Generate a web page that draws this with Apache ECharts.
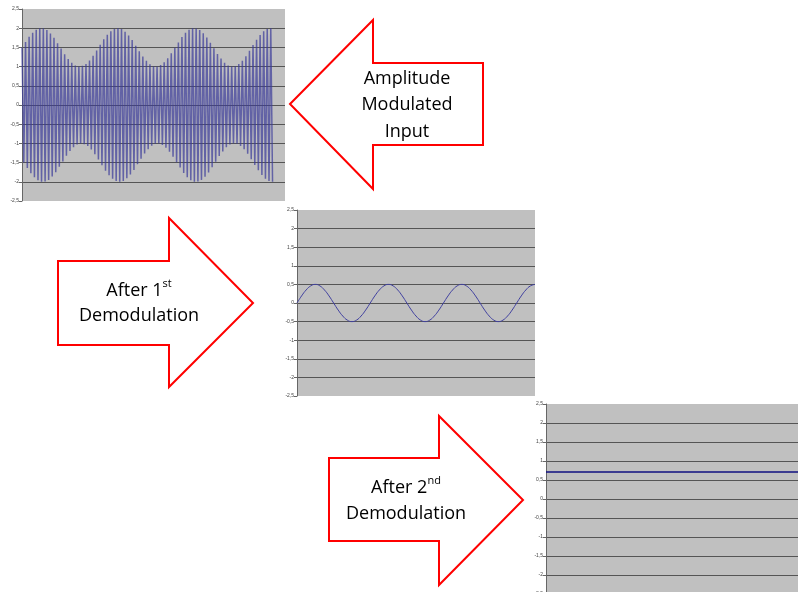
<!DOCTYPE html>
<html>
<head>
<meta charset="utf-8">
<script src="https://cdn.jsdelivr.net/npm/echarts@6/dist/echarts.min.js"></script>
<style>
  html, body { margin: 0; padding: 0; background: #fff; }
  #main { width: 804px; height: 592px; }
</style>
</head>
<body>
<div id="main"></div>
<script>
// peak of each carrier cycle in the amplitude modulated input
var amPeaks = [1.5, 1.64, 1.78, 1.88, 1.96, 2.0, 1.99, 1.95, 1.86, 1.75, 1.61, 1.47, 1.32, 1.2,
    1.1, 1.03, 1.0, 1.02, 1.07, 1.16, 1.28, 1.42, 1.57, 1.71, 1.83, 1.92, 1.98, 2.0, 1.98,
    1.91, 1.81, 1.69, 1.54, 1.4, 1.26, 1.15, 1.06, 1.01, 1.0, 1.04, 1.11, 1.22, 1.35, 1.49,
    1.63, 1.77, 1.88, 1.96, 2.0, 1.99, 1.95, 1.87, 1.76, 1.62, 1.48, 1.33, 1.21, 1.1, 1.03,
    1.0, 1.01, 1.07, 1.15, 1.27, 1.41, 1.56, 1.7, 1.82, 1.92, 1.98, 2.0];

// after 1st demodulation
var demod1 = [0, 0.19, 0.35, 0.46, 0.5, 0.46, 0.35, 0.19, 0, -0.19, -0.35, -0.46, -0.5, -0.46, -0.35, -0.19,
    0, 0.19, 0.35, 0.46, 0.5, 0.46, 0.35, 0.19, 0, -0.19, -0.35, -0.46, -0.5, -0.46, -0.35, -0.19,
    0, 0.19, 0.35, 0.46, 0.5, 0.46, 0.35, 0.19, 0, -0.19, -0.35, -0.46, -0.5, -0.46, -0.35, -0.19,
    0, 0.19, 0.35, 0.46, 0.5];

// after 2nd demodulation
var demod2 = [0.71, 0.71, 0.71, 0.71, 0.71, 0.71, 0.71, 0.71, 0.71, 0.71, 0.71];

var yMin = -2.5, yMax = 2.5, yStep = 0.5;

// carrier: each cycle goes up to the peak and down to minus the peak
var amData = [];
amPeaks.forEach(function (p, i) {
    amData.push([2 * i, p]);
    amData.push([2 * i + 1, -p]);
});

function cats(arr) {
    return arr.map(function (v, i) { return i; });
}

function yAxisFor(gi) {
    return {
        type: 'value', gridIndex: gi, min: yMin, max: yMax, interval: yStep,
        axisLine: { show: true, lineStyle: { color: '#666', width: 1 } },
        axisTick: { show: true, length: 3, lineStyle: { color: '#666' } },
        axisLabel: {
            fontSize: 5, color: '#444', margin: 3, fontFamily: 'Liberation Sans',
            formatter: function (v) { return String(v).replace('.', ','); }
        },
        splitLine: { show: true, showMinLine: false, showMaxLine: false, lineStyle: { color: '#555', width: 1 } }
    };
}

var gridBase = { show: true, backgroundColor: '#c0c0c0', borderWidth: 0, containLabel: false, outerBoundsMode: 'none' };
var txtFont = '"Open Sans", "Liberation Sans", sans-serif';

var myChart = echarts.init(document.getElementById('main'));

option = {
    animation: false,
    backgroundColor: '#fff',
    grid: [
        Object.assign({ left: 22, top: 9, width: 263, height: 192 }, gridBase),
        Object.assign({ left: 297, top: 210, width: 238, height: 186 }, gridBase),
        Object.assign({ left: 546, top: 404, width: 252, height: 190 }, gridBase)
    ],
    xAxis: [
        { type: 'value', gridIndex: 0, min: 0, max: 148, show: false },
        { type: 'category', gridIndex: 1, data: cats(demod1), boundaryGap: false, show: false },
        { type: 'category', gridIndex: 2, data: cats(demod2), boundaryGap: false, show: false }
    ],
    yAxis: [yAxisFor(0), yAxisFor(1), yAxisFor(2)],
    series: [
        {
            type: 'line', xAxisIndex: 0, yAxisIndex: 0, data: amData, showSymbol: false,
            lineStyle: { color: '#3a3a9a', width: 1.5, opacity: 0.7 }
        },
        {
            type: 'line', xAxisIndex: 1, yAxisIndex: 1, data: demod1, showSymbol: false, smooth: true,
            lineStyle: { color: '#4040a0', width: 1 }
        },
        {
            type: 'line', xAxisIndex: 2, yAxisIndex: 2, data: demod2, showSymbol: false,
            lineStyle: { color: '#101080', width: 1.5 }
        }
    ],
    graphic: [
        {
            type: 'polygon',
            shape: { points: [[290, 104], [373, 20], [373, 63], [483, 63], [483, 145], [373, 145], [373, 189]] },
            style: { fill: '#fff', stroke: '#ff0000', lineWidth: 2 }
        },
        {
            type: 'polygon',
            shape: { points: [[58, 261], [169, 261], [169, 218], [253, 303], [169, 387], [169, 345], [58, 345]] },
            style: { fill: '#fff', stroke: '#ff0000', lineWidth: 2 }
        },
        {
            type: 'polygon',
            shape: { points: [[329, 458], [439, 458], [439, 416], [523, 500], [439, 585], [439, 541], [329, 541]] },
            style: { fill: '#fff', stroke: '#ff0000', lineWidth: 2 }
        },
        {
            type: 'text', x: 407, y: 105,
            style: {
                text: 'Amplitude\nModulated\nInput', fill: '#000', fontSize: 18, fontFamily: txtFont,
                lineHeight: 26.5, align: 'center', verticalAlign: 'middle',
                textAlign: 'center', textVerticalAlign: 'middle'
            }
        },
        {
            type: 'text', x: 139, y: 303.5,
            style: {
                text: '{n|After 1}{sup|st}\n{n|Demodulation}', fill: '#000', fontSize: 18, fontFamily: txtFont,
                lineHeight: 25, align: 'center', verticalAlign: 'middle',
                textAlign: 'center', textVerticalAlign: 'middle',
                rich: {
                    n: { fontSize: 18, fontFamily: txtFont, lineHeight: 25 },
                    sup: { fontSize: 11, fontFamily: txtFont, lineHeight: 25, verticalAlign: 'top' }
                }
            }
        },
        {
            type: 'text', x: 406, y: 501,
            style: {
                text: '{n|After 2}{sup|nd}\n{n|Demodulation}', fill: '#000', fontSize: 18, fontFamily: txtFont,
                lineHeight: 26, align: 'center', verticalAlign: 'middle',
                textAlign: 'center', textVerticalAlign: 'middle',
                rich: {
                    n: { fontSize: 18, fontFamily: txtFont, lineHeight: 26 },
                    sup: { fontSize: 11, fontFamily: txtFont, lineHeight: 26, verticalAlign: 'top' }
                }
            }
        }
    ]
};

myChart.setOption(option);
</script>
</body>
</html>
